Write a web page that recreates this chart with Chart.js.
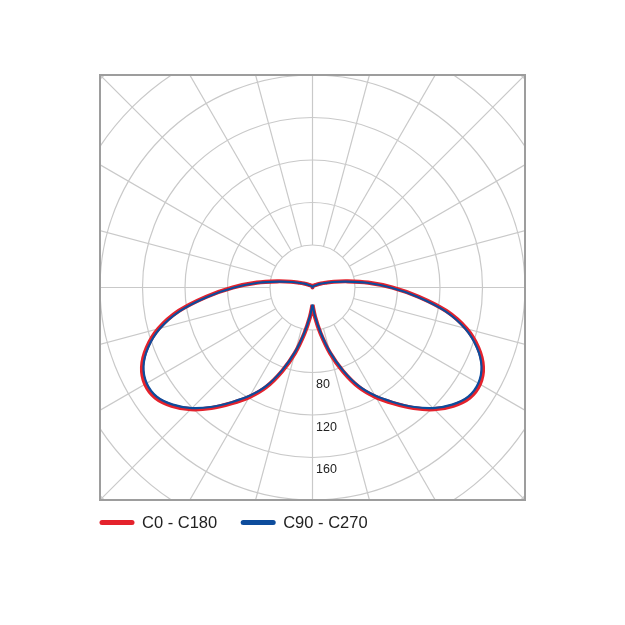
<!DOCTYPE html>
<html>
<head>
<meta charset="utf-8">
<script src="https://cdn.jsdelivr.net/npm/chart.js@4.4.1/dist/chart.umd.min.js"></script>
<style>
  html, body { margin: 0; padding: 0; background: #ffffff; }
  #wrap { width: 625px; height: 625px; }
</style>
</head>
<body>
<div id="wrap"><canvas id="c" width="625" height="625"></canvas></div>
<script>
// Polar angles (degrees from nadir) and luminous intensity
const angles = [0,5,10,15,20,25,30,35,40,45,50,55,60,65,70,75,80,85,90,95,100,105,110,115,120,130,140,150,160,170,180];
const seriesC0C180 = [16.5,28,44,64,84,103.5,119,133,148,162,173,180.5,181.8,177,166,150,128,100.5,75,52.6,33.6,21,13,9,6,3.5,2.5,2,1.5,1,0];
const seriesC90C270 = [16,27,42.5,62.5,82.5,102,117.5,131.5,146.5,160.5,171.5,179,180.2,175.5,164.5,148.5,126.5,99,73.5,51.2,32.2,20,12,8.5,5.5,3,2,1.5,1,0.5,0];
const seriesLabels = ['C0 - C180', 'C90 - C270'];
const seriesColors = ['#e4222c', '#0d4c9c'];

// Polar grid
const ringValues = [40, 80, 120, 160, 200, 240, 280, 320];
const ringLabelValues = [80, 120, 160];
const spokeAngles = [0,15,30,45,60,75,90,105,120,135,150,165,180,195,210,225,240,255,270,285,300,315,330,345];
const axisMax = 200;

function toXY(vals) {
  const pts = [];
  for (let i = 0; i < angles.length; i++) {
    const t = angles[i] * Math.PI / 180;
    pts.push({ x: vals[i] * Math.sin(t), y: -vals[i] * Math.cos(t) });
  }
  for (let i = angles.length - 2; i >= 0; i--) {
    const t = angles[i] * Math.PI / 180;
    pts.push({ x: -vals[i] * Math.sin(t), y: -vals[i] * Math.cos(t) });
  }
  return pts;
}

const polarGrid = {
  id: 'polarGrid',
  beforeDatasetsDraw(chart) {
    const { ctx, chartArea: a, scales: { x, y } } = chart;
    const cx = x.getPixelForValue(0), cy = y.getPixelForValue(0);
    const k = (x.getPixelForValue(axisMax) - cx) / axisMax;
    ctx.save();
    ctx.beginPath();
    ctx.rect(a.left, a.top, a.right - a.left, a.bottom - a.top);
    ctx.clip();
    ctx.strokeStyle = '#c9c9c9';
    ctx.lineWidth = 1.2;
    ringValues.forEach(v => {
      ctx.beginPath();
      ctx.arc(cx, cy, v * k, 0, Math.PI * 2);
      ctx.stroke();
    });
    const r0 = ringValues[0] * k, r1 = ringValues[ringValues.length - 1] * k;
    spokeAngles.forEach(d => {
      const t = d * Math.PI / 180;
      const sx = Math.sin(t), sy = Math.cos(t);
      ctx.beginPath();
      ctx.moveTo(cx + sx * r0, cy + sy * r0);
      ctx.lineTo(cx + sx * r1, cy + sy * r1);
      ctx.stroke();
    });
    ctx.restore();
    ctx.save();
    ctx.fillStyle = '#222';
    ctx.font = '12.5px "Liberation Sans", Arial, sans-serif';
    ctx.textAlign = 'left';
    ctx.textBaseline = 'top';
    ringLabelValues.forEach(v => {
      ctx.fillText(String(v), cx + 3.5, y.getPixelForValue(-v) + 6);
    });
    ctx.strokeStyle = '#9d9d9d';
    ctx.lineWidth = 2;
    ctx.strokeRect(a.left, a.top, a.right - a.left, a.bottom - a.top);
    ctx.restore();
  },
  afterDraw(chart) {
    const { ctx, chartArea: a } = chart;
    ctx.save();
    ctx.font = '16.5px "Liberation Sans", Arial, sans-serif';
    ctx.textBaseline = 'middle';
    ctx.textAlign = 'left';
    ctx.lineCap = 'round';
    let xPos = a.left + 2;
    const yPos = a.bottom + 22.5;
    chart.data.datasets.forEach(ds => {
      ctx.strokeStyle = ds.borderColor;
      ctx.lineWidth = 5;
      ctx.beginPath();
      ctx.moveTo(xPos, yPos);
      ctx.lineTo(xPos + 30, yPos);
      ctx.stroke();
      ctx.fillStyle = '#222';
      ctx.fillText(ds.label, xPos + 40, yPos + 0.5);
      xPos += 40 + ctx.measureText(ds.label).width + 26;
    });
    ctx.restore();
  }
};

new Chart(document.getElementById('c'), {
  type: 'scatter',
  data: {
    datasets: [
      { label: seriesLabels[0], data: toXY(seriesC0C180), showLine: true, borderColor: seriesColors[0], backgroundColor: seriesColors[0], borderWidth: 4.2, pointRadius: 0, tension: 0.3, order: 2 },
      { label: seriesLabels[1], data: toXY(seriesC90C270), showLine: true, borderColor: seriesColors[1], backgroundColor: seriesColors[1], borderWidth: 2.2, pointRadius: 0, tension: 0.3, order: 1 }
    ]
  },
  options: {
    responsive: false,
    animation: false,
    devicePixelRatio: 1,
    layout: { padding: { left: 100, right: 100, top: 75, bottom: 125 } },
    scales: {
      x: { type: 'linear', min: -axisMax, max: axisMax, display: false },
      y: { type: 'linear', min: -axisMax, max: axisMax, display: false }
    },
    plugins: { legend: { display: false }, tooltip: { enabled: false } }
  },
  plugins: [polarGrid]
});
</script>
</body>
</html>
